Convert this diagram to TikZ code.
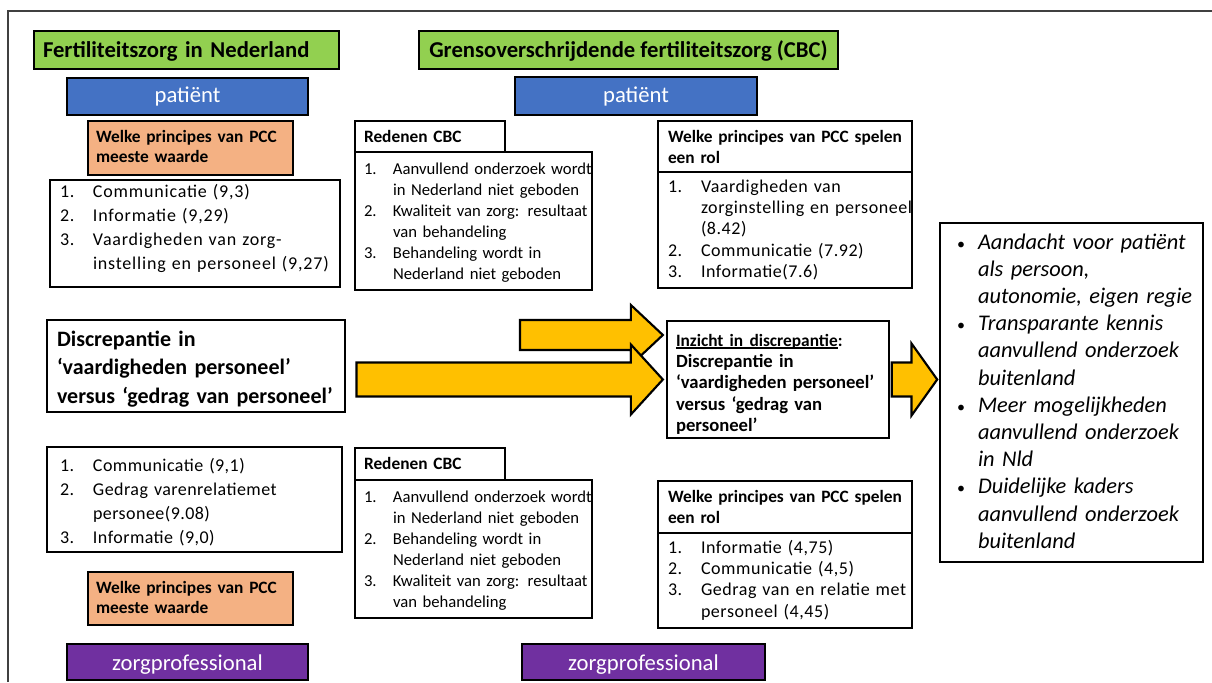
\documentclass[tikz,border=0pt]{standalone}
\usepackage{fontspec}
\setmainfont{Carlito}
\usetikzlibrary{calc}
\definecolor{hdrgreen}{HTML}{92D050}
\definecolor{ptblue}{HTML}{4472C4}
\definecolor{pccorange}{HTML}{F4B183}
\definecolor{profpurple}{HTML}{7030A0}
\definecolor{arrowgold}{HTML}{FFC000}
% numbered / bulleted rows: label column of given width, then the text
% (top-aligned, so the node's baseline is that of the first row)
\newcommand{\nlist}[2]{\begin{tabular}[t]{@{}p{#1}@{}l@{}}#2\end{tabular}}
\newcommand{\plines}[1]{\begin{tabular}[t]{@{}l@{}}#1\end{tabular}}
% heavy underline
\newcommand{\heavyul}[1]{\setbox0\hbox{#1}\rlap{\rule[-2.2pt]{\wd0}{1.3pt}}\box0}
% small upright bullet
\newcommand{\dotmark}{{\upshape\fontsize{12}{12}\selectfont\textbullet}}

\begin{document}
\begin{tikzpicture}[x=0.75pt,y=-0.75pt,
  box/.style={draw=black, line width=2.2pt, inner ysep=0pt, align=left},
  % first baseline sits #1 below the top edge, #2 is the rest of the box height
  tb/.style 2 args={text height=#1, text depth=#2},
  title/.style={box, fill=hdrgreen, font=\fontsize{17}{20}\selectfont\bfseries},
  role/.style={box, text=white, align=center, font=\fontsize{17}{20}\selectfont},
  patient/.style={role, fill=ptblue},
  prof/.style={role, fill=profpurple},
  pcchead/.style={box, fill=pccorange, font=\fontsize{13}{15}\selectfont\bfseries},
  subhead/.style={box, fill=white, font=\fontsize{13}{15.75}\selectfont\bfseries},
  listbox/.style={box, fill=white, font=\fontsize{12.5}{15.75}\selectfont},
  spacedlist/.style={box, fill=white, font=\fontsize{13.5}{16}\selectfont\addfontfeatures{LetterSpace=3}},
  widelist/.style={box, fill=white, font=\fontsize{13.5}{18.2}\selectfont\addfontfeatures{LetterSpace=#1}},
  barrow/.style={fill=arrowgold, draw=black, line width=1.6pt, line join=miter},
]
\useasboundingbox (0,0) rectangle (1212,682);

% outer frame
\draw[line width=1.1pt, black!75] (8,682) -- (8,11) -- (1212,11);

% ---------- left column: fertility care in the Netherlands ----------
\node[title, minimum width=228.75pt, minimum height=28.5pt, inner xsep=6.75pt, text width=215.25pt, tb={19.5pt}{9pt}]
  (nlhead) at (186.5,50) {Fertiliteitszorg in Nederland};
\node[patient, minimum width=180.75pt, minimum height=27.75pt, tb={18pt}{9.75pt}] (nlpat) at (187.5,96.5) {patiënt};
\node[pcchead, minimum width=153.75pt, minimum height=40.5pt, inner xsep=6pt, text width=141.75pt, tb={15.75pt}{24.75pt}]
  (nlpcca) at (190.5,148) {\plines{Welke principes van PCC\\meeste waarde}};
\node[widelist=4.5, minimum width=217.5pt, minimum height=80.25pt, inner xsep=7.5pt, text width=202.5pt, tb={12.75pt}{67.5pt}]
  (nllista) at (195,233.5) {\nlist{24.75pt}{1.&Communicatie (9,3)\\2.&Informatie (9,29)\\3.&Vaardigheden van zorg-\\&instelling en personeel (9,27)}};

\node[box, fill=white, minimum width=223.5pt, minimum height=69pt, inner xsep=7.5pt, text width=208.5pt,
  font=\fontsize{16.5}{21.4}\selectfont\bfseries, tb={19.5pt}{49.5pt}]
  (disc) at (196,366) {\plines{Discrepantie in\\‘vaardigheden personeel’\\versus ‘gedrag van personeel’}};

\node[widelist=2.5, minimum width=221.25pt, minimum height=78.75pt, inner xsep=9.75pt, text width=201.75pt, tb={18pt}{60.75pt}]
  (nllistb) at (194.5,499.5) {\nlist{24.75pt}{1.&Communicatie (9,1)\\2.&Gedrag varenrelatiemet\\&personee(9.08)\\3.&Informatie (9,0)}};
\node[pcchead, minimum width=153.75pt, minimum height=39.75pt, inner xsep=6pt, text width=141.75pt, tb={15.75pt}{24pt}]
  (nlpccb) at (190.5,598.5) {\plines{Welke principes van PCC\\meeste waarde}};
\node[prof, minimum width=180.75pt, minimum height=27pt, tb={19.5pt}{7.5pt}] (nlprof) at (187.5,662) {zorgprofessional};

% ---------- middle: cross-border fertility care ----------
\node[title, minimum width=314.25pt, minimum height=28.5pt, align=center, tb={19.5pt}{9pt}]
  (cbchead) at (628.5,50) {Grensoverschrijdende fertiliteitszorg (CBC)};
\node[patient, minimum width=181.5pt, minimum height=28.5pt, tb={18.75pt}{9.75pt}] (cbcpat) at (636,96) {patiënt};

\node[subhead, minimum width=112.5pt, minimum height=23.25pt, inner xsep=6.75pt, text width=99pt, tb={15.75pt}{7.5pt}]
  (redha) at (430,136.5) {Redenen CBC};
\node[listbox, minimum width=177.75pt, minimum height=103.5pt, inner xsep=6.75pt, text width=164.25pt, tb={16.5pt}{87pt}]
  (redla) at (473.5,221) {\nlist{21.75pt}{1.&Aanvullend onderzoek wordt\\&in Nederland niet geboden\\2.&Kwaliteit van zorg: resultaat\\&van behandeling\\3.&Behandeling wordt in\\&Nederland niet geboden}};

\node[subhead, minimum width=112.5pt, minimum height=24pt, inner xsep=6.75pt, text width=99pt, tb={15.75pt}{8.25pt}]
  (redhb) at (430,464) {Redenen CBC};
\node[listbox, minimum width=177.75pt, minimum height=103.5pt, inner xsep=6.75pt, text width=164.25pt, tb={16.5pt}{87pt}]
  (redlb) at (473.5,549) {\nlist{21.75pt}{1.&Aanvullend onderzoek wordt\\&in Nederland niet geboden\\2.&Behandeling wordt in\\&Nederland niet geboden\\3.&Kwaliteit van zorg: resultaat\\&van behandeling}};
\node[prof, minimum width=182.25pt, minimum height=27pt, tb={19.5pt}{7.5pt}] (cbcprof) at (643.5,662) {zorgprofessional};

\node[subhead, minimum width=190.5pt, minimum height=38.25pt, inner xsep=7.5pt, text width=175.5pt, tb={15.75pt}{22.5pt}]
  (pccha) at (785,146.5) {\plines{Welke principes van PCC spelen\\een rol}};
\node[spacedlist, minimum width=190.5pt, minimum height=87pt, inner xsep=7.5pt, text width=175.5pt, tb={15pt}{72pt}]
  (pccla) at (785,230) {\nlist{24.75pt}{1.&Vaardigheden van\\&zorginstelling en personeel\\&(8.42)\\2.&Communicatie (7.92)\\3.&Informatie(7.6)}};

\node[subhead, minimum width=190.5pt, minimum height=39pt, inner xsep=7.5pt, text width=175.5pt, tb={15.75pt}{23.25pt}]
  (pcchb) at (785,507) {\plines{Welke principes van PCC spelen\\een rol}};
\node[spacedlist, minimum width=190.5pt, minimum height=71.25pt, inner xsep=7.5pt, text width=175.5pt, tb={15pt}{56.25pt}]
  (pcclb) at (785,580.5) {\nlist{24.75pt}{1.&Informatie (4,75)\\2.&Communicatie (4,5)\\3.&Gedrag van en relatie met\\&personeel (4,45)}};

% ---------- insight and recommendations ----------
\node[box, fill=white, minimum width=166.5pt, minimum height=87.75pt, inner xsep=6.75pt, text width=153pt,
  font=\fontsize{14}{16}\selectfont\bfseries, tb={18.75pt}{69pt}]
  (inz) at (778,379.5) {\plines{{\fontsize{13}{16}\selectfont\heavyul{Inzicht in discrepantie}:}\\Discrepantie in\\‘vaardigheden personeel’\\versus ‘gedrag van\\personeel’}};

\node[box, fill=white, minimum width=197.25pt, minimum height=254.25pt, inner xsep=12.75pt, text width=171.75pt,
  font=\fontsize{16.8}{20.4}\selectfont\itshape, tb={19.5pt}{234.75pt}]
  (advice) at (1071.5,392.5) {\nlist{15.75pt}{\dotmark&Aandacht voor patiënt\\&als persoon,\\&autonomie, eigen regie\\\dotmark&Transparante kennis\\&aanvullend onderzoek\\&buitenland\\\dotmark&Meer mogelijkheden\\&aanvullend onderzoek\\&in Nld\\\dotmark&Duidelijke kaders\\&aanvullend onderzoek\\&buitenland}};

% ---------- block arrows ----------
\draw[barrow] let \p1=(inz.west), \p0=(520,335) in
  (\x0,\y0+11.25pt) -- (\x1-26pt,\y0+11.25pt) -- (\x1-26pt,\y0+22.5pt) -- (\x1-2pt,\y0)
  -- (\x1-26pt,\y0-22.5pt) -- (\x1-26pt,\y0-11.25pt) -- (\x0,\y0-11.25pt) -- cycle;
\draw[barrow] let \p1=(disc.east), \p2=(inz.west) in
  (\x1+7.5pt,\y2+12.75pt) -- (\x2-26pt,\y2+12.75pt) -- (\x2-26pt,\y2+26.25pt) -- (\x2-2pt,\y2)
  -- (\x2-26pt,\y2-26.25pt) -- (\x2-26pt,\y2-12.75pt) -- (\x1+7.5pt,\y2-12.75pt) -- cycle;
\draw[barrow] let \p1=(inz.east), \p2=(advice.west) in
  (\x1+1pt,\y1+12.75pt) -- (\x2-20.25pt,\y1+12.75pt) -- (\x2-20.25pt,\y1+27pt) -- (\x2-1pt,\y1)
  -- (\x2-20.25pt,\y1-27pt) -- (\x2-20.25pt,\y1-12.75pt) -- (\x1+1pt,\y1-12.75pt) -- cycle;
\end{tikzpicture}
\end{document}
